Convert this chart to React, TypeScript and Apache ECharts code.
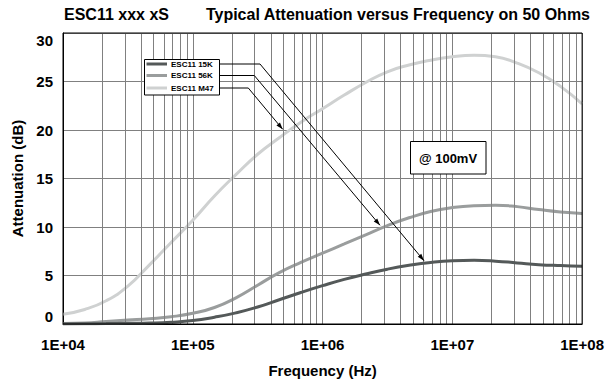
import React, { useEffect, useRef } from "react";
import * as echarts from "echarts";

const freqs = [
  1e4, 1.47e4, 2.15e4, 3.16e4, 4.64e4, 6.81e4,
  1e5, 1.47e5, 2.15e5, 3.16e5, 4.64e5, 6.81e5,
  1e6, 1.47e6, 2.15e6, 3.16e6, 4.64e6, 6.81e6,
  1e7, 1.47e7, 2.15e7, 3.16e7, 4.64e7, 6.81e7,
  1e8,
];
const esc15K = [
  0.0, 0.02, 0.04, 0.07, 0.1, 0.18,
  0.35, 0.7, 1.15, 1.75, 2.5, 3.25,
  3.95, 4.6, 5.15, 5.65, 6.05, 6.35,
  6.52, 6.56, 6.48, 6.3, 6.12, 6.02,
  5.95,
];
const esc56K = [
  0.05, 0.1, 0.25, 0.4, 0.55, 0.75,
  1.1, 1.7, 2.7, 4.0, 5.3, 6.35,
  7.3, 8.25, 9.2, 10.15, 10.95, 11.6,
  12.0, 12.2, 12.25, 12.1, 11.8, 11.55,
  11.4,
];
const escM47 = [
  1.0, 1.5, 2.4, 3.9, 6.1, 8.4,
  10.7, 13.2, 15.4, 17.5, 19.2, 20.8,
  22.2, 23.6, 24.9, 26.0, 26.7, 27.2,
  27.55, 27.7, 27.55, 26.9, 25.9, 24.5,
  22.7,
];
const seriesNames = ["ESC11 15K", "ESC11 56K", "ESC11 M47"];
const seriesColors = ["#545959", "#9a9d9d", "#cfd1d1"];
const xTickValues = [1e4, 1e5, 1e6, 1e7, 1e8];
const xTickLabels = ["1E+04", "1E+05", "1E+06", "1E+07", "1E+08"];
const decades = [1e4, 1e5, 1e6, 1e7];
const multipliers = [2, 3, 4, 5, 6, 7, 8, 9];

const FONT = "'Liberation Sans', Arial, sans-serif";

export default function App() {
  const ref = useRef<HTMLDivElement>(null);
  useEffect(() => {
    if (!ref.current) return;
    const chart = echarts.init(ref.current, null, { renderer: "svg" });
    const minorLines: any[] = [];
    decades.forEach((d) =>
      multipliers.forEach((m) => minorLines.push({ xAxis: d * m }))
    );
    const allSeries = [esc15K, esc56K, escM47];
    const legendY = [64, 75.5, 88];
    const arrows = [
      { pts: [[219.5, 64], [260, 64], [424, 260.7]] },
      { pts: [[219.5, 75.5], [254.3, 75.5], [380, 225.3]] },
      { pts: [[219.5, 88], [248.3, 88], [282.7, 129.3]] },
    ];
    const arrowHeads = arrows.map((a) => {
      const p1 = a.pts[1];
      const t = a.pts[2];
      const dx = t[0] - p1[0];
      const dy = t[1] - p1[1];
      const len = Math.sqrt(dx * dx + dy * dy);
      const ux = dx / len;
      const uy = dy / len;
      const bx = t[0] - 7 * ux;
      const by = t[1] - 7 * uy;
      const px = -uy * 2.3;
      const py = ux * 2.3;
      return {
        type: "polygon",
        shape: { points: [[t[0], t[1]], [bx + px, by + py], [bx - px, by - py]] },
        style: { fill: "#000" },
        z: 20,
      };
    });
    const graphics: any[] = [
      {
        type: "text",
        x: 64,
        y: 14,
        style: {
          text: "ESC11 xxx xS",
          font: `bold 16px ${FONT}`,
          fill: "#000",
          textAlign: "left",
          textVerticalAlign: "middle",
        },
      },
      {
        type: "text",
        x: 590,
        y: 14,
        style: {
          text: "Typical Attenuation versus Frequency on 50 Ohms",
          font: `bold 16px ${FONT}`,
          fill: "#000",
          textAlign: "right",
          textVerticalAlign: "middle",
        },
      },
      {
        type: "rect",
        shape: { x: 144.5, y: 59.5, width: 75, height: 35.5 },
        style: { fill: "#fff", stroke: "#000", lineWidth: 1 },
        z: 20,
      },
      ...seriesNames.map((n, i) => ({
        type: "line",
        shape: { x1: 146.5, y1: legendY[i], x2: 167, y2: legendY[i] },
        style: { stroke: seriesColors[i], lineWidth: 3 },
        z: 21,
      })),
      ...seriesNames.map((n, i) => ({
        type: "text",
        x: 171,
        y: legendY[i],
        style: {
          text: n,
          font: `bold 8px ${FONT}`,
          fill: "#000",
          textAlign: "left",
          textVerticalAlign: "middle",
        },
        z: 21,
      })),
      ...arrows.map((a) => ({
        type: "polyline",
        shape: { points: a.pts },
        style: { stroke: "#000", lineWidth: 1, fill: null },
        z: 20,
      })),
      ...arrowHeads,
      {
        type: "rect",
        shape: { x: 410.5, y: 141.5, width: 75.5, height: 32.5 },
        style: { fill: "#fff", stroke: "#000", lineWidth: 1 },
        z: 20,
      },
      {
        type: "text",
        x: 448,
        y: 158,
        style: {
          text: "@ 100mV",
          font: `bold 13px ${FONT}`,
          fill: "#000",
          textAlign: "center",
          textVerticalAlign: "middle",
        },
        z: 21,
      },
    ];
    chart.setOption({
      animation: false,
      backgroundColor: "#fff",
      grid: {
        left: 63,
        right: 20,
        top: 33,
        bottom: 57,
        show: true,
        borderColor: "#000",
        borderWidth: 1,
        z: 10,
      },
      xAxis: {
        type: "log",
        logBase: 10,
        min: 1e4,
        max: 1e8,
        name: "Frequency (Hz)",
        nameLocation: "middle",
        nameGap: 39,
        nameTextStyle: { fontFamily: FONT, fontWeight: "bold", fontSize: 15, color: "#000" },
        axisLine: { show: true, lineStyle: { color: "#000", width: 1 } },
        axisTick: { show: false },
        splitLine: { show: true, lineStyle: { color: "#808080", width: 1 } },
        axisLabel: {
          margin: 13,
          fontFamily: FONT,
          fontWeight: "bold",
          fontSize: 15,
          color: "#000",
          formatter: (v: number) => {
            const i = xTickValues.findIndex((t) => Math.abs(Math.log10(t) - Math.log10(v)) < 0.01);
            return i >= 0 ? xTickLabels[i] : "";
          },
        },
      },
      yAxis: {
        type: "value",
        min: 0,
        max: 30,
        interval: 5,
        name: "Attenuation (dB)",
        nameLocation: "middle",
        nameGap: 37,
        nameRotate: 90,
        nameTextStyle: { fontFamily: FONT, fontWeight: "bold", fontSize: 15, color: "#000" },
        axisLine: { show: true, lineStyle: { color: "#000", width: 1 } },
        axisTick: { show: false },
        splitLine: { show: true, lineStyle: { color: "#808080", width: 1 } },
        axisLabel: {
          margin: 10,
          fontFamily: FONT,
          fontWeight: "bold",
          fontSize: 15,
          color: "#000",
          verticalAlignMinLabel: "bottom",
          verticalAlignMaxLabel: "top",
        },
      },
      series: [
        {
          type: "line",
          data: [],
          silent: true,
          z: 1,
          markLine: {
            silent: true,
            symbol: "none",
            label: { show: false },
            lineStyle: { color: "#808080", width: 1, type: "solid" },
            data: minorLines,
          },
        },
        ...allSeries.map((vals, i) => ({
          type: "line",
          name: seriesNames[i],
          data: freqs.map((f, j) => [f, vals[j]]),
          smooth: true,
          symbol: "none",
          z: 5 - i,
          lineStyle: { color: seriesColors[i], width: 3 },
          itemStyle: { color: seriesColors[i] },
        })),
      ],
      graphic: graphics,
    });
    return () => chart.dispose();
  }, []);
  return (
    <div
      ref={ref}
      style={{ position: "fixed", left: 0, top: 0, width: 607, height: 383 }}
    />
  );
}
